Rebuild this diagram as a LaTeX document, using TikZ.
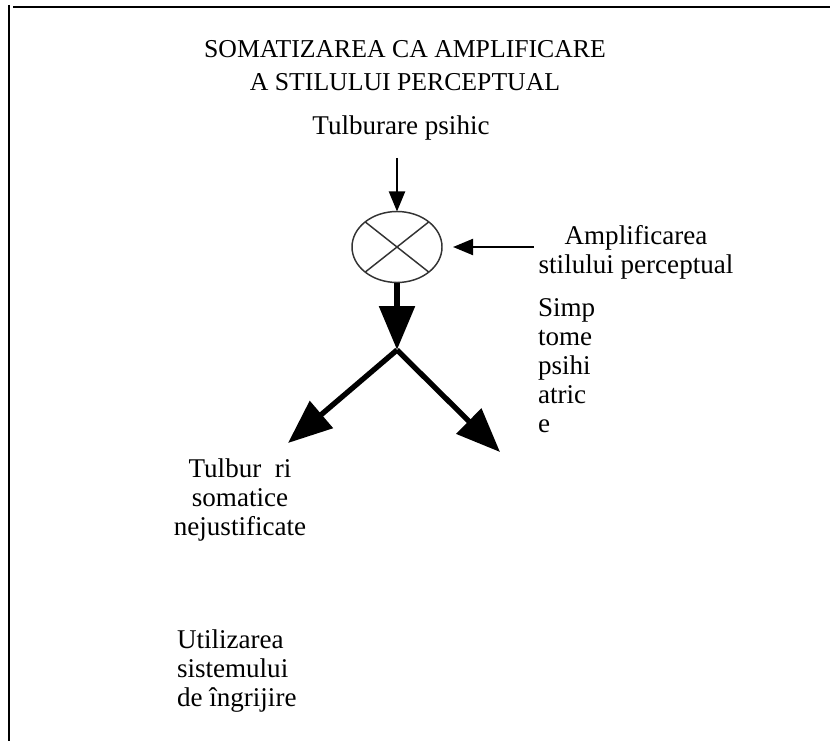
\documentclass[tikz,border=0pt]{standalone}
\usepackage{fontspec}
\setmainfont{Liberation Serif}
\usetikzlibrary{arrows.meta,shapes.geometric}
\begin{document}
\begin{tikzpicture}[x=0.75pt,y=-0.75pt,
  lbl/.style={inner sep=0pt, outer sep=0pt, font=\fontsize{20.3pt}{21.75pt}\selectfont},
  ttl/.style={inner sep=0pt, outer sep=0pt, font=\fontsize{19.3pt}{24.75pt}\selectfont, align=center},
  thinarrow/.style={line width=1.5pt, -{Triangle[length=15pt,width=12pt]}},
  thickarrow/.style={line width=4pt, -{Triangle[length=33pt,width=26pt]}},
  crossline/.style={line width=1.1pt, draw=black!80},
  frameline/.style={line width=1.8pt}]
\useasboundingbox (0,0) rectangle (830,741);
\draw[frameline] (9,5) -- (9,741);
\draw[frameline] (13,7) -- (830,7);
\node[ttl, anchor=north] (title) at (405,40) {SOMATIZAREA CA AMPLIFICARE\\A STILULUI PERCEPTUAL};
\node[lbl, anchor=base] (tp) at (401,135) {Tulburare psihic};
\node[ellipse, draw=black!80, line width=1.1pt, inner sep=0pt, outer sep=0pt,
      minimum width=67.5pt, minimum height=53.25pt] (mult) at (397,247) {};
\draw[crossline] (mult.north west) -- (mult.south east);
\draw[crossline] (mult.north east) -- (mult.south west);
\node[lbl, align=center, anchor=north] (amp) at (636,225.5) {Amplificarea\\stilului perceptual};
\node[lbl, align=left, anchor=north west] (simp) at (538,298.5) {Simp\\tome\\psihi\\atric\\e};
\node[lbl, align=center, anchor=north] (som) at (240,458.5) {Tulbur\ \ ri\\somatice\\nejustificate};
\node[lbl, align=left, anchor=north west] (util) at (177,629.5) {Utilizarea\\sistemului\\de îngrijire};
\coordinate (j) at (397,350);
\coordinate (lt) at (288,443);
\coordinate (rt) at (500,452);
\draw[thinarrow, shorten <=12.75pt] (tp.south -| mult.north) -- (mult.north);
\draw[thinarrow, shorten >=8.25pt] ([xshift=-3.75pt]amp.west |- mult.east) -- (mult.east);
\draw[thickarrow, line width=5pt] (mult.south) -- (j);
\draw[thickarrow] (j) -- (lt);
\draw[thickarrow] (j) -- (rt);
\end{tikzpicture}
\end{document}
